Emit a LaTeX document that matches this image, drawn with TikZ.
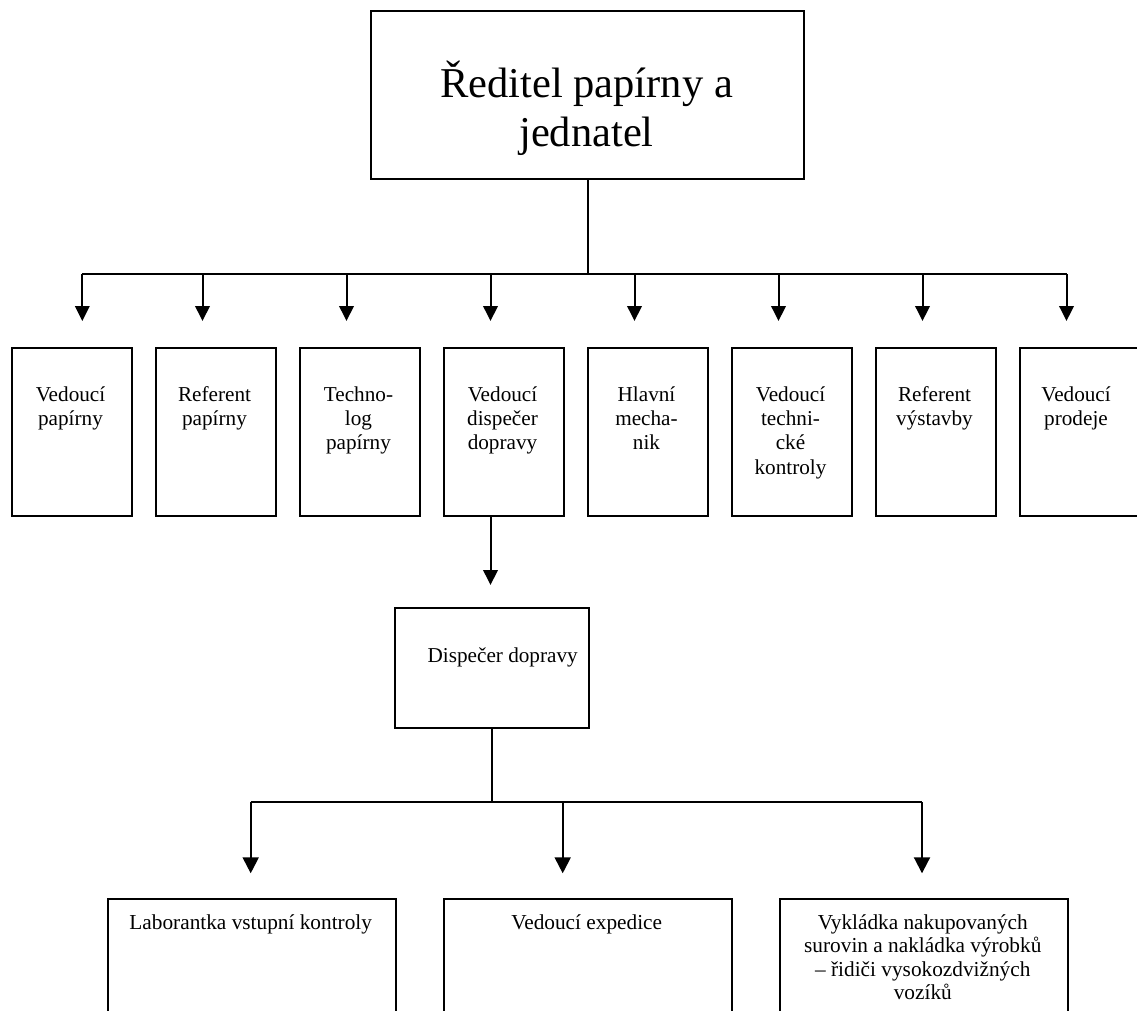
\documentclass[tikz,border=0pt]{standalone}
\usepackage{fontspec}
\setmainfont{Liberation Serif}
\usetikzlibrary{arrows.meta}

% centred block of lines whose reference point is the first baseline
\newcommand{\celltext}[1]{\begin{tabular}[t]{@{}c@{}}#1\end{tabular}}

\begin{document}
\begin{tikzpicture}[
    x=1pt, y=-1pt,
    line/.style={draw=black, line width=2pt},
    arr/.style={line, -{Triangle[length=15pt,width=14.5pt]}},
    lowarr/.style={line, -{Triangle[length=16pt,width=16pt]}},
    box/.style={draw=black, line width=2pt, fill=white, inner sep=0pt, anchor=north west},
    rowbox/.style={box, minimum width=120pt, minimum height=168pt},
    lowbox/.style={box, minimum width=288pt, minimum height=160pt},
    label/.style={anchor=base, inner sep=0pt, font=\fontsize{21.2}{24.4}\selectfont},
    lowlabel/.style={anchor=base, inner sep=0pt, font=\fontsize{21.3}{23.5}\selectfont},
  ]
  \path[use as bounding box, clip] (0,0) rectangle (1137,1011);
  \fill[white] (0,0) rectangle (1137,1011);

  % director
  \node[box, minimum width=433pt, minimum height=168pt] (dir) at (370,10) {};
  \node[anchor=base, inner sep=0pt, font=\fontsize{42.5}{49}\selectfont] (dirtext)
    at (586.5,97.7) {\celltext{Ředitel papírny a\\jednatel}};

  % first level
  \node[rowbox] (b1) at (10.5,346.5) {};
  \node[rowbox] (b2) at (154.5,346.5) {};
  \node[rowbox] (b3) at (298.5,346.5) {};
  \node[rowbox] (b4) at (442.5,346.5) {};
  \node[rowbox] (b5) at (586.5,346.5) {};
  \node[rowbox] (b6) at (730.5,346.5) {};
  \node[rowbox] (b7) at (874.5,346.5) {};
  \node[rowbox] (b8) at (1018.5,346.5) {};

  \node[label] (l1) at (70.5,401)   {\celltext{Vedoucí\\papírny}};
  \node[label] (l2) at (214.5,401)  {\celltext{Referent\\papírny}};
  \node[label] (l3) at (358.5,401)  {\celltext{Techno-\\log\\papírny}};
  \node[label] (l4) at (502.5,401)  {\celltext{Vedoucí\\dispečer\\dopravy}};
  \node[label] (l5) at (646.5,401)  {\celltext{Hlavní\\mecha-\\nik}};
  \node[label] (l6) at (790.5,401)  {\celltext{Vedoucí\\techni-\\cké\\kontroly}};
  \node[label] (l7) at (934.5,401)  {\celltext{Referent\\výstavby}};
  \node[label] (l8) at (1076,401)   {\celltext{Vedoucí\\prodeje}};

  % bus points and arrow tips of the first level
  \foreach \i/\x in {1/82.3, 2/202.5, 3/346.5, 4/490.5, 5/634.5, 6/778.5, 7/922.5, 8/1066.5} {
    \coordinate (a\i) at (\x,274);
    \coordinate (t\i) at (\x,321);
  }
  \draw[line] (dir.south) -- (dir.south |- a1);
  \draw[line] (a1) -- (a8);
  \foreach \i in {1,...,8} {
    \draw[arr] (a\i) -- (t\i);
  }

  % transport dispatcher
  \coordinate (dtip) at (490.5,585);
  \draw[arr] (b4.south -| dtip) -- (dtip);
  \node[box, minimum width=194pt, minimum height=120pt] (disp) at (394,606.7) {};
  \node[label] (disptext) at (502.7,662.5) {Dispečer dopravy};

  % second level
  \foreach \i/\x in {1/250.7, 2/562.7, 3/922} {
    \coordinate (c\i) at (\x,802);
    \coordinate (s\i) at (\x,873.3);
  }
  \draw[line] (disp.south) -- (disp.south |- c1);
  \draw[line] (c1) -- (c3);
  \foreach \i in {1,2,3} {
    \draw[lowarr] (c\i) -- (s\i);
  }

  \node[lowbox] (d1) at (106.7,897.7) {};
  \node[lowbox] (d2) at (442.7,897.7) {};
  \node[lowbox] (d3) at (778.8,897.7) {};

  \node[lowlabel] (m1) at (250.7,929.3) {Laborantka vstupní kontroly};
  \node[lowlabel] (m2) at (586.7,929.3) {Vedoucí expedice};
  \node[lowlabel] (m3) at (922.8,929.3)
    {\celltext{Vykládka nakupovaných\\surovin a nakládka výrobků\\– řidiči vysokozdvižných\\vozíků}};
\end{tikzpicture}
\end{document}
